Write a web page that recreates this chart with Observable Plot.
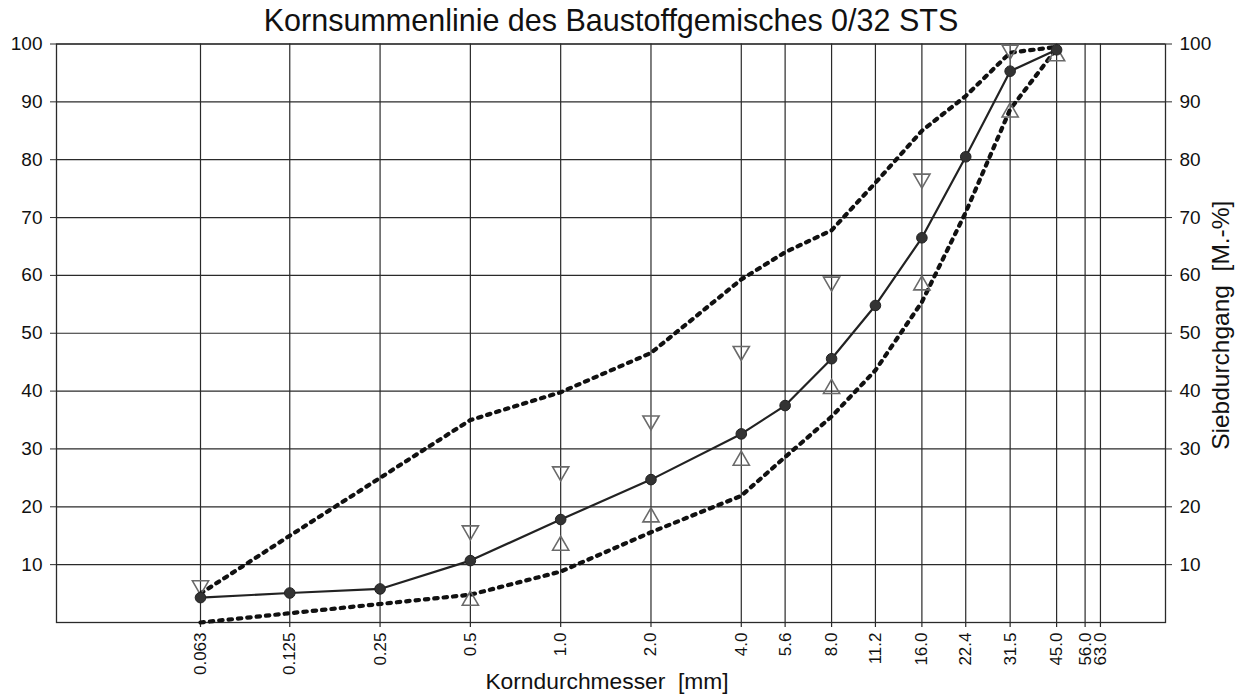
<!DOCTYPE html>
<html>
<head>
<meta charset="utf-8">
<script src="https://cdn.jsdelivr.net/npm/d3@7"></script>
<script src="https://cdn.jsdelivr.net/npm/@observablehq/plot@0.6"></script>
<style>
  html, body { margin: 0; padding: 0; background: #fff; }
  #chart svg { display: block; }
</style>
</head>
<body>
<div id="chart"></div>
<script>
// Sieve sizes (mm) and their tick labels
const sieves = [0.063, 0.125, 0.25, 0.5, 1.0, 2.0, 4.0, 5.6, 8.0, 11.2, 16.0, 22.4, 31.5, 45.0, 56.0, 63.0];
const tickLabels = ["0.063", "0.125", "0.25", "0.5", "1.0", "2.0", "4.0", "5.6", "8.0", "11.2", "16.0", "22.4", "31.5", "45.0", "56.0", "63.0"];
const yTicks = [10, 20, 30, 40, 50, 60, 70, 80, 90, 100];

// Mixture grading curve (Siebdurchgang, M.-%)
const mixSieves = [0.063, 0.125, 0.25, 0.5, 1.0, 2.0, 4.0, 5.6, 8.0, 11.2, 16.0, 22.4, 31.5, 45.0];
const mixPassing = [4.3, 5.1, 5.8, 10.7, 17.8, 24.7, 32.6, 37.5, 45.6, 54.8, 66.5, 80.5, 95.3, 99.0];

// Grading envelope (dotted curves)
const upperEnvelope = [5.0, 15.0, 25.0, 35.0, 39.8, 46.6, 59.3, 64.0, 67.8, 76.0, 85.0, 91.0, 98.5, 99.5];
const lowerEnvelope = [0.0, 1.6, 3.2, 4.8, 8.8, 15.6, 21.9, 28.6, 35.6, 43.6, 55.4, 70.9, 88.7, 99.2];

// Limit markers (open triangles)
const upperMarkSieves = [0.063, 0.5, 1.0, 2.0, 4.0, 8.0, 16.0, 31.5];
const upperMarkValues = [6.4, 15.9, 26.1, 34.9, 46.9, 58.9, 76.7, 99.0];
const lowerMarkSieves = [0.5, 1.0, 2.0, 4.0, 8.0, 16.0, 31.5, 45.0];
const lowerMarkValues = [3.8, 13.3, 18.2, 28.0, 40.4, 58.3, 88.2, 97.9];

const title = "Kornsummenlinie des Baustoffgemisches 0/32 STS";
const xLabel = "Korndurchmesser  [mm]";
const yLabel = "Siebdurchgang  [M.-%]";

const mix = mixSieves.map((s, i) => ({s, v: mixPassing[i]}));
const upper = mixSieves.map((s, i) => ({s, v: upperEnvelope[i]}));
const lower = mixSieves.map((s, i) => ({s, v: lowerEnvelope[i]}));
const upMarks = upperMarkSieves.map((s, i) => ({s, v: upperMarkValues[i]}));
const loMarks = lowerMarkSieves.map((s, i) => ({s, v: lowerMarkValues[i]}));
const xTicks = sieves.map((s, i) => ({s, label: tickLabels[i]}));

const font = "'Liberation Sans', Arial, Helvetica, sans-serif";
const gridColor = "#2a2a2a";

const chart = Plot.plot({
  width: 1241,
  height: 696,
  marginLeft: 56,
  marginRight: 76,
  marginTop: 43.5,
  marginBottom: 74,
  style: {fontFamily: font, background: "#fff", color: "#111"},
  x: {type: "log", domain: [0.02086, 103.8], axis: null},
  y: {domain: [0, 100], axis: null},
  marks: [
    // vertical grid at the sieve sizes, extended slightly below the frame as tick marks
    Plot.ruleX(sieves, {stroke: gridColor, strokeWidth: 1.2, insetBottom: -5}),
    Plot.ruleY(yTicks, {stroke: gridColor, strokeWidth: 1.2}),
    Plot.frame({stroke: gridColor, strokeWidth: 1.3}),
    Plot.axisY(yTicks, {anchor: "left", tickSize: 6, tickPadding: 8, fontSize: 19, label: null, stroke: gridColor}),
    Plot.axisY(yTicks, {anchor: "right", tickSize: 6, tickPadding: 8, fontSize: 19, label: null, stroke: gridColor}),
    Plot.text(xTicks, {x: "s", text: "label", frameAnchor: "bottom", dy: 10, rotate: -90, textAnchor: "end",
      lineAnchor: "middle", fontSize: 17, fill: "#111"}),
    Plot.line(upper, {x: "s", y: "v", stroke: "#111", strokeWidth: 4.2, strokeDasharray: "3.4,6"}),
    Plot.line(lower, {x: "s", y: "v", stroke: "#111", strokeWidth: 4.2, strokeDasharray: "3.4,6"}),
    Plot.dot(upMarks, {x: "s", y: "v", symbol: "triangle", rotate: 180, r: 6, fill: "none", stroke: "#6a6a6a", strokeWidth: 1.6}),
    Plot.dot(loMarks, {x: "s", y: "v", symbol: "triangle", r: 6, fill: "none", stroke: "#6a6a6a", strokeWidth: 1.6}),
    Plot.line(mix, {x: "s", y: "v", stroke: "#222", strokeWidth: 2.2}),
    Plot.dot(mix, {x: "s", y: "v", r: 5.3, fill: "#333", stroke: "#222", strokeWidth: 1}),
    Plot.text([title], {frameAnchor: "top", dy: -22.8, fontSize: 30.5, fill: "#111", lineAnchor: "middle"}),
    Plot.text([xLabel], {frameAnchor: "bottom", dx: -4, dy: 59, fontSize: 22.8, fill: "#111", lineAnchor: "middle"}),
    Plot.text([yLabel], {frameAnchor: "right", dx: 56, dy: -8, rotate: -90, textAnchor: "middle", fontSize: 24.5, fill: "#111", lineAnchor: "middle"})
  ]
});
document.getElementById("chart").append(chart);
</script>
</body>
</html>
